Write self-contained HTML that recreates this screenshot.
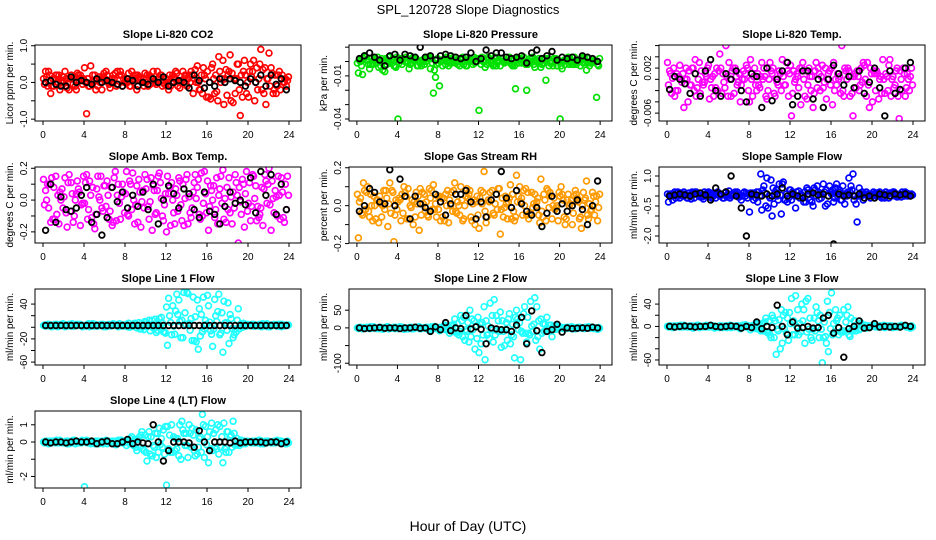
<!DOCTYPE html>
<html><head><meta charset="utf-8">
<style>
html,body{margin:0;padding:0;background:#fff;}
svg{display:block;font-family:"Liberation Sans",sans-serif;}
</style></head>
<body>
<svg id="chart" width="936" height="540" viewBox="0 0 936 540" xmlns="http://www.w3.org/2000/svg">
<text x="468" y="14" text-anchor="middle" font-size="13">SPL_120728  Slope Diagnostics</text>
<text x="468" y="531" text-anchor="middle" font-size="14">Hour of Day (UTC)</text>
</svg>
<script>
// ---- shared data ----
const hours=[0.25,0.75,1.25,1.75,2.25,2.75,3.25,3.75,4.25,4.75,5.25,5.75,6.25,6.75,7.25,7.75,8.25,8.75,9.25,9.75,10.25,10.75,11.25,11.75,12.25,12.75,13.25,13.75,14.25,14.75,15.25,15.75,16.25,16.75,17.25,17.75,18.25,18.75,19.25,19.75,20.25,20.75,21.25,21.75,22.25,22.75,23.25,23.75];
const dayOffsetHours=[-0.2,-0.1,0,0.1,0.2];
const xTicks=[0,4,8,12,16,20,24];

// ---- CO2 ----
const co2Day1=[0.1,0.3,-0.1,0.2,0.0,-0.2,0.15,0.05,0.4,-0.1,0.2,0.0,0.1,-0.15,0.25,0.3,0.05,-0.1,0.2,0.1,0.0,0.15,-0.05,0.2,0.1,0.0,0.25,0.05,-0.1,0.2,0.45,-0.3,0.3,0.5,-0.5,0.6,0.2,-0.55,0.5,0.3,-0.4,0.6,0.1,-0.3,0.8,-0.2,0.3,0.0];
const co2Day2=[-0.05,0.2,0.1,-0.2,0.3,0.1,-0.1,0.2,0.0,0.45,-0.2,0.1,0.3,0.0,-0.1,0.2,0.1,0.3,-0.2,0.0,0.2,0.1,0.3,-0.1,0.0,0.2,-0.1,0.3,0.1,-0.3,0.0,0.4,-0.4,0.1,0.7,-0.6,0.3,0.1,-0.2,0.6,0.3,-0.5,0.5,0.4,-0.1,0.2,-0.2,0.1];
const co2Day3=[0.3,-0.3,0.2,0.0,0.1,0.2,-0.2,0.1,-0.85,0.0,0.1,-0.2,0.2,0.1,0.3,-0.1,0.0,0.1,0.2,0.0,-0.1,0.3,0.1,0.0,-0.2,0.15,0.0,0.1,0.2,0.1,-0.2,0.2,0.0,-0.3,0.3,0.1,0.75,-0.3,-0.9,0.2,0.5,0.0,0.9,-0.6,0.4,-0.3,0.1,-0.1];
const co2Day4=[0.15,-0.1,0.2,0.05,-0.15,0.1,0.25,-0.05,0.1,0.2,-0.1,0.15,0.0,0.2,-0.05,0.1,0.25,0.0,0.15,-0.1,0.2,0.05,0.15,-0.05,0.2,0.1,-0.15,0.2,0.0,0.35,-0.2,0.1,-0.45,0.2,0.0,0.35,-0.5,0.1,0.2,-0.3,0.15,0.4,-0.2,0.1,0.25,-0.1,0.2,0.05];
const co2Day5=[-0.1,0.1,0.0,0.15,0.1,-0.05,0.2,0.1,-0.1,0.05,0.15,0.25,-0.05,0.1,0.2,0.0,-0.1,0.2,0.05,0.25,-0.05,0.0,0.2,0.1,-0.1,0.3,0.05,-0.05,0.3,0.0,0.2,-0.4,0.4,-0.25,0.1,-0.35,0.25,0.5,-0.4,0.0,0.3,-0.2,0.35,0.1,-0.3,0.2,0.0,0.15];
const co2Mean=[0.0,0.05,-0.05,-0.1,-0.1,0.15,0.0,0.05,0.0,-0.05,0.1,0.0,0.05,0.0,-0.05,-0.1,0.1,0.05,-0.1,0.0,-0.05,0.1,0.0,0.15,-0.1,0.0,0.05,0.0,-0.15,0.2,0.05,-0.15,0.0,-0.1,0.1,0.0,0.1,0.05,0.0,-0.1,0.1,0.0,0.2,-0.1,0.2,-0.05,0.1,-0.2];
const co2Ticks=[-1,-0.5,0,0.5,1];
const co2Labels=["-1.0","","0.0","","1.0"];

// ---- Pressure ----
const presDay1=[-0.001,-0.009,0.001,-0.002,0.003,-0.006,0.000,0.002,-0.040,0.001,-0.001,0.003,-0.003,0.000,0.002,-0.022,-0.001,0.001,-0.003,0.003,0.000,-0.002,0.001,0.003,-0.034,0.000,0.002,-0.002,0.001,-0.001,0.003,-0.003,0.001,-0.001,0.002,-0.004,0.000,0.002,-0.001,0.001,-0.040,-0.002,0.002,0.000,-0.003,0.001,-0.001,0.000];
const presDay2=[-0.008,0.002,-0.002,0.001,-0.004,0.000,0.003,-0.003,-0.001,0.002,-0.005,0.001,0.000,-0.002,0.003,-0.006,-0.017,0.002,-0.001,0.001,-0.003,0.000,0.002,-0.001,0.001,-0.004,0.000,0.003,-0.003,0.001,-0.001,-0.019,0.002,-0.002,0.000,0.001,-0.004,-0.013,-0.001,0.002,-0.003,0.001,0.000,-0.002,0.002,-0.006,-0.001,-0.025];
const presDay3=[0.001,0.004,-0.005,0.002,0.000,-0.007,-0.001,-0.003,0.002,0.000,-0.002,0.001,-0.001,0.002,-0.005,-0.011,0.000,-0.002,0.002,-0.001,0.001,-0.003,0.000,0.002,-0.002,0.001,-0.001,-0.003,0.002,0.000,-0.002,0.001,-0.001,-0.020,0.002,0.000,-0.002,0.001,-0.001,-0.003,-0.005,0.002,-0.002,0.001,0.003,-0.001,0.000,-0.002];
const presDay4=[0.000,0.003,-0.002,0.001,-0.003,0.002,0.000,-0.004,0.001,0.003,-0.001,0.002,-0.003,0.000,0.002,-0.002,0.001,0.003,-0.001,0.000,0.002,-0.003,0.001,0.000,0.003,-0.002,0.001,-0.001,0.002,0.000,-0.003,0.002,0.001,-0.002,0.003,0.000,-0.001,0.002,-0.003,0.001,0.000,0.003,-0.002,0.001,-0.001,0.002,0.000,-0.003];
const presDay5=[-0.003,0.001,0.002,-0.001,0.002,-0.002,0.001,0.003,-0.002,0.000,0.002,-0.003,0.001,0.003,-0.001,0.002,-0.003,0.000,0.001,-0.002,0.003,0.001,-0.002,0.002,0.000,0.003,-0.003,0.001,0.000,0.002,0.001,-0.001,0.003,0.000,-0.002,0.002,0.001,-0.003,0.002,0.000,0.001,-0.002,0.003,0.000,0.002,-0.003,0.001,0.002];
const presMean=[0.002,0.004,0.006,0.003,0.001,-0.003,0.004,0.005,0.001,0.005,0.004,0.003,0.010,0.003,0.004,0.001,0.004,0.005,0.004,0.003,0.002,0.003,0.006,0.000,0.002,0.008,0.004,0.006,0.006,0.003,0.002,0.003,0.004,-0.001,0.006,0.008,0.002,0.004,0.007,0.001,0.003,0.002,0.003,0.001,0.004,0.003,0.002,0.000];
const presTicks=[0.01,0,-0.01,-0.02,-0.03,-0.04];
const presLabels=["","","-0.01","","","-0.04"];

// ---- Li-820 Temp ----
const tempDay1=[0.0030,0.0002,-0.0020,0.0010,-0.0040,0.0020,0.0000,-0.0010,0.0025,-0.0030,0.0015,-0.0005,0.0030,-0.0025,0.0010,0.0000,-0.0040,0.0020,-0.0015,0.0005,0.0030,-0.0030,0.0010,-0.0010,0.0025,0.0000,-0.0045,0.0015,-0.0020,0.0030,0.0005,-0.0035,0.0020,-0.0010,0.0060,0.0000,-0.0025,0.0015,-0.0005,0.0030,-0.0040,0.0010,0.0035,-0.0020,0.0005,-0.0030,0.0020,0.0000];
const tempDay2=[-0.0010,0.0020,0.0005,-0.0050,0.0015,-0.0020,0.0030,-0.0005,-0.0035,0.0010,0.0045,-0.0015,0.0000,0.0020,-0.0040,0.0010,0.0035,-0.0010,0.0005,-0.0030,0.0015,0.0000,-0.0020,0.0030,-0.0065,0.0010,0.0020,-0.0035,0.0005,-0.0015,0.0025,0.0000,-0.0045,0.0010,-0.0020,0.0020,-0.0065,0.0005,0.0030,-0.0010,0.0015,-0.0035,0.0000,0.0025,-0.0015,-0.0070,0.0010,-0.0020];
const tempDay3=[0.0015,-0.0030,0.0025,0.0000,-0.0010,0.0035,-0.0025,0.0010,0.0000,-0.0015,0.0020,0.0060,-0.0030,0.0005,-0.0010,0.0025,0.0000,-0.0020,0.0030,-0.0035,0.0010,-0.0005,0.0035,0.0015,-0.0025,0.0005,0.0030,-0.0010,-0.0050,0.0020,-0.0015,0.0010,0.0030,0.0000,-0.0030,0.0015,0.0005,-0.0020,0.0025,-0.0050,0.0010,0.0000,-0.0025,0.0035,-0.0010,0.0015,-0.0030,0.0005];
const tempDay4=[0.0010,-0.0020,0.0000,0.0020,-0.0010,-0.0030,0.0015,0.0005,-0.0015,0.0020,-0.0025,0.0005,0.0015,-0.0010,0.0000,0.0020,-0.0030,0.0010,0.0000,-0.0020,0.0020,-0.0010,0.0005,-0.0030,0.0015,-0.0015,0.0000,0.0020,-0.0025,0.0010,-0.0005,0.0015,-0.0020,0.0005,0.0020,-0.0030,0.0010,-0.0010,0.0000,0.0020,-0.0020,0.0005,0.0010,-0.0030,0.0015,0.0000,-0.0015,0.0020];
const tempDay5=[-0.0025,0.0010,-0.0005,0.0000,0.0020,-0.0015,-0.0005,0.0020,0.0005,-0.0020,0.0010,-0.0030,0.0020,-0.0005,0.0015,-0.0020,0.0005,-0.0010,0.0020,0.0000,-0.0025,0.0015,-0.0010,0.0010,-0.0005,0.0020,-0.0030,0.0005,0.0015,-0.0020,0.0020,-0.0010,0.0000,-0.0025,0.0015,0.0005,-0.0015,0.0020,-0.0030,0.0010,0.0015,-0.0025,0.0005,0.0000,0.0020,-0.0020,0.0010,-0.0010];
const tempMean=[-0.0018,0.0005,0.0000,-0.0008,-0.0025,0.0010,-0.0030,0.0015,0.0035,-0.0020,-0.0030,0.0010,0.0000,0.0015,-0.0020,-0.0040,0.0010,0.0005,-0.0050,0.0020,-0.0038,0.0000,0.0015,0.0030,-0.0045,-0.0030,0.0015,0.0015,-0.0035,0.0000,-0.0050,0.0000,0.0025,0.0010,-0.0010,0.0005,-0.0015,0.0015,-0.0025,-0.0005,0.0020,-0.0015,-0.0065,0.0015,-0.0025,-0.0018,0.0020,0.0030];
const tempTicks=[0.006,0.004,0.002,0,-0.002,-0.004,-0.006];
const tempLabels=["","","0.002","","","","-0.006"];

// ---- Amb Box Temp ----
const ambDay1=[0.13,-0.05,0.08,-0.15,0.02,0.16,-0.10,0.05,-0.02,0.12,-0.18,0.00,0.09,-0.07,0.18,-0.12,0.04,0.10,-0.03,-0.17,0.07,0.14,-0.08,0.01,-0.20,0.11,0.03,-0.13,0.16,-0.05,0.08,-0.10,0.12,0.00,-0.15,0.19,-0.06,0.05,-0.27,0.10,-0.02,0.15,-0.11,0.07,0.20,-0.08,0.03,-0.14];
const ambDay2=[-0.03,0.10,-0.12,0.05,0.14,-0.07,0.00,-0.16,0.11,0.03,-0.09,0.15,-0.04,0.08,-0.13,0.02,0.18,-0.06,0.09,-0.01,0.13,-0.19,0.06,-0.10,0.15,0.00,-0.07,0.10,-0.15,0.05,0.13,-0.02,-0.19,0.09,0.03,-0.12,0.14,-0.05,0.08,-0.17,0.11,0.01,-0.09,0.16,-0.03,0.06,-0.12,0.10];
const ambDay3=[0.06,-0.14,0.15,0.00,-0.08,0.11,0.04,-0.03,0.16,-0.11,0.07,-0.05,0.12,-0.16,0.03,0.10,-0.09,0.17,-0.14,0.06,-0.04,0.09,0.15,-0.13,0.04,-0.08,0.14,-0.16,0.02,0.11,-0.09,0.18,-0.04,-0.11,0.07,0.01,-0.08,0.16,-0.01,0.04,-0.13,0.09,-0.05,0.12,-0.19,0.02,0.14,-0.06];
const ambDay4=[0.00,0.14,-0.09,0.07,-0.17,0.04,0.12,-0.02,-0.12,0.08,0.15,-0.07,0.03,-0.14,0.10,0.05,-0.10,0.00,0.13,-0.05,-0.12,0.06,0.17,-0.03,0.08,-0.15,0.12,0.01,-0.08,0.16,-0.12,0.04,0.09,-0.06,0.15,-0.14,0.02,0.11,-0.09,0.18,-0.04,-0.13,0.08,-0.02,0.12,-0.10,0.05,0.15];
const ambDay5=[0.10,-0.12,0.03,-0.05,0.11,-0.14,0.07,0.15,-0.06,-0.15,0.02,0.09,-0.12,0.14,-0.02,-0.08,0.12,-0.15,0.05,0.16,-0.01,-0.09,0.11,0.04,-0.16,0.07,-0.03,0.13,-0.11,0.01,0.17,-0.08,0.06,0.14,-0.02,0.08,-0.15,0.03,0.13,-0.07,0.16,-0.04,-0.16,0.10,0.01,0.15,-0.11,0.03];
const ambMean=[-0.19,0.10,-0.14,0.02,-0.06,-0.07,-0.05,0.03,0.08,-0.14,-0.09,-0.22,-0.11,0.08,-0.01,0.05,-0.05,0.03,-0.04,0.05,-0.06,0.10,-0.15,0.00,0.09,0.04,-0.05,0.07,0.04,-0.06,-0.11,0.05,-0.07,-0.09,-0.15,-0.04,0.05,-0.02,0.00,-0.03,0.14,-0.08,0.18,0.03,0.16,-0.09,0.10,-0.06];
const ambTicks=[0.2,0.1,0,-0.1,-0.2];
const ambLabels=["0.2","","0.0","","-0.2"];

// ---- Gas Stream RH ----
const rhDay1=[0.06,-0.05,0.10,-0.08,0.03,0.00,-0.11,0.07,0.02,-0.04,0.09,-0.10,0.05,0.01,-0.06,0.11,-0.02,0.04,-0.09,0.08,0.00,-0.07,0.06,0.03,-0.12,0.18,0.02,-0.05,0.09,-0.01,0.04,-0.08,0.10,0.00,-0.04,0.06,-0.09,0.03,0.07,-0.02,0.05,-0.10,0.01,0.08,-0.06,0.04,-0.03,0.02];
const rhDay2=[-0.17,0.12,-0.03,0.05,-0.09,0.08,0.01,-0.19,0.04,0.10,-0.07,0.02,-0.13,0.06,0.09,-0.02,0.05,-0.08,0.03,0.12,-0.05,0.00,0.08,-0.10,0.04,-0.03,0.07,0.01,-0.15,0.05,0.11,-0.06,0.02,0.09,-0.04,0.00,0.14,-0.08,0.05,-0.01,0.10,-0.07,0.03,0.06,-0.12,0.13,-0.02,0.05];
const rhDay3=[0.02,0.08,-0.06,0.00,0.05,-0.02,0.12,-0.05,0.03,0.07,0.00,-0.06,0.09,-0.03,0.04,0.01,-0.08,0.06,0.00,-0.03,0.10,0.05,-0.06,0.02,0.08,-0.09,0.03,0.06,-0.02,0.01,-0.07,0.16,0.04,-0.05,0.07,0.02,-0.03,0.09,-0.07,0.00,0.06,0.03,-0.10,0.04,0.00,-0.05,0.07,-0.08];
const rhDay4=[0.04,-0.02,0.06,-0.07,0.01,0.08,-0.04,0.03,-0.08,0.05,-0.01,0.07,-0.05,0.02,0.08,-0.06,0.04,0.00,0.07,-0.04,0.03,0.09,-0.08,0.05,0.01,-0.06,0.08,-0.02,0.04,-0.07,0.06,0.02,-0.05,0.07,-0.01,0.04,-0.06,0.08,0.00,-0.08,0.03,0.06,-0.04,0.02,0.07,-0.07,0.05,-0.01];
const rhDay5=[-0.04,0.07,0.00,0.03,-0.06,0.04,0.08,-0.02,0.06,-0.07,0.03,0.01,0.07,-0.05,-0.02,0.05,-0.06,0.08,-0.03,0.02,-0.08,0.04,0.01,-0.05,0.07,0.03,-0.04,0.09,-0.06,0.02,-0.03,0.05,0.08,-0.07,0.01,-0.05,0.06,-0.01,0.04,0.07,-0.06,0.00,0.05,-0.07,0.03,0.01,-0.05,0.06];
const rhMean=[-0.03,0.00,0.09,0.07,0.02,0.01,0.19,0.00,0.14,0.05,-0.07,0.05,0.01,-0.01,-0.03,0.06,0.02,-0.05,0.01,0.06,0.06,0.08,0.02,-0.07,0.02,-0.06,0.03,0.06,0.18,0.04,-0.01,0.08,0.01,-0.03,-0.05,-0.01,-0.11,-0.04,0.05,-0.03,0.01,-0.03,0.00,0.03,-0.02,-0.10,0.00,0.13];
const rhTicks=[0.2,0.1,0,-0.1,-0.2];
const rhLabels=["0.2","","0.0","","-0.2"];

// ---- Sample Flow ----
const sampDay1=[0.1,-0.2,0.2,0.0,-0.1,0.15,0.05,-0.15,0.2,0.0,0.1,-0.1,0.25,0.05,-0.05,0.2,-0.8,0.1,0.0,0.15,-0.1,0.2,0.05,-0.2,0.3,-0.6,0.1,-0.3,0.2,0.0,-0.1,0.3,0.1,0.6,-0.2,0.0,0.3,-1.3,0.2,0.1,0.0,0.15,-0.05,0.1,0.2,0.0,0.1,0.05];
const sampDay2=[-0.3,0.1,0.0,0.2,0.15,-0.1,0.05,0.2,-0.05,0.1,0.0,0.15,-0.1,0.2,0.05,0.0,0.15,-0.1,1.1,-0.5,0.8,0.3,-0.9,0.1,-0.2,0.2,0.0,0.4,-0.3,0.5,0.1,-0.4,0.3,0.0,0.5,0.2,1.1,0.0,-0.2,0.1,0.2,0.0,0.1,-0.1,0.2,0.05,0.0,0.1];
const sampDay3=[0.05,0.2,-0.1,0.1,0.0,0.2,-0.05,0.1,0.15,-0.1,0.05,0.2,0.0,0.1,-0.2,0.15,0.0,0.2,-0.7,0.9,-1.0,0.0,0.6,-0.3,0.2,0.0,-0.1,0.3,-0.5,0.2,0.6,0.0,-0.3,0.2,0.1,0.9,-0.2,0.4,0.1,0.0,0.1,0.2,-0.1,0.15,0.0,0.1,0.2,0.0];
const sampDay4=[0.1,-0.1,0.15,0.05,-0.15,0.2,0.0,0.1,-0.1,0.15,0.05,-0.05,0.1,0.2,0.0,-0.1,0.15,-0.3,0.3,-0.6,0.4,-0.2,0.7,-0.1,0.1,0.25,-0.3,0.1,0.4,-0.15,0.2,0.5,-0.1,0.3,-0.4,0.2,0.0,0.15,0.1,-0.1,0.15,0.05,0.2,0.0,0.1,-0.05,0.15,0.1];
const sampDay5=[0.0,0.15,0.05,-0.1,0.2,0.1,-0.05,0.15,0.0,0.2,-0.1,0.1,0.05,-0.05,0.15,0.1,-0.2,0.2,0.5,0.0,-0.4,0.6,-0.2,0.3,0.0,-0.1,0.2,-0.2,0.3,0.1,-0.5,0.2,0.4,-0.2,0.1,0.5,-0.4,0.0,0.2,0.1,0.0,-0.1,0.1,0.15,-0.05,0.2,0.0,0.05];
const sampMean=[0.0,0.05,0.1,0.05,0.0,0.1,0.15,0.05,-0.2,0.4,0.1,0.2,1.0,0.0,-0.6,-2.0,0.1,0.05,0.0,0.1,0.0,0.1,0.4,0.0,0.1,0.0,-0.1,0.1,0.15,0.05,0.1,0.0,-2.4,0.1,0.0,0.05,0.0,0.1,-0.1,0.0,-0.1,0.1,0.05,0.0,0.1,0.05,0.1,0.0];
const sampTicks=[1,0.5,0,-0.5,-1,-1.5,-2];
const sampLabels=["1.0","","","-0.5","","","-2.0"];

// ---- Line 1 Flow ----
const line1Day1=[3,5,2,4,3,5,2,4,3,1,5,3,4,2,5,3,4,1,5,-3,9,2,-9,17,35,-13,57,12,60,-23,47,-8,55,-33,27,-43,42,-18,32,7,3,5,2,4,3,5,2,3];
const line1Day2=[4,2,5,3,1,4,3,5,2,4,3,5,1,3,4,2,5,3,-1,7,1,12,-5,7,-31,37,22,-18,58,52,-38,52,37,-3,57,45,-28,-13,-3,3,4,2,5,3,1,4,5,3];
const line1Day3=[2,4,3,5,4,2,5,3,4,5,2,4,3,5,2,4,1,5,3,1,6,-1,7,-8,50,2,47,60,7,-23,32,-3,9,48,-13,7,22,-3,5,2,4,3,5,2,4,3,1,4];
const line1Day4=[3,1,5,4,2,6,3,1,4,6,2,5,3,6,1,4,7,2,8,-4,12,-2,15,-8,20,-12,10,25,-5,18,-15,12,-6,20,-10,8,15,-8,6,2,5,3,1,6,4,2,5,3];
const line1Day5=[5,3,1,6,4,2,5,3,6,2,4,1,5,3,6,2,0,7,-3,10,-6,14,2,-10,8,28,-18,5,15,-25,22,5,-12,10,25,-5,-2,12,0,5,2,4,6,1,3,5,2,4];
const line1Mean=[3,3,3,3,3,3,3,3,3,3,3,3,3,3,3,3,3,3,3,3,3,3,3,3,3,3,3,3,3,3,3,3,3,3,3,3,3,3,3,3,3,3,3,3,3,3,3,3];
const line1Ticks=[40,20,0,-20,-40,-60];
const line1Labels=["40","","","-20","","-60"];

// ---- Line 2 Flow ----
const line2Day1=[0,-3,2,-1,0,-4,3,0,-2,1,-3,0,2,-1,-5,3,0,4,-6,10,-20,30,-40,20,-70,60,-30,80,-10,-50,40,-85,15,60,-20,85,-60,10,-5,3,0,-2,1,-3,0,2,-1,0];
const line2Day2=[-2,1,-1,3,-2,0,-3,2,0,-4,1,-2,3,0,-6,4,-8,8,-15,25,-10,-35,50,-60,10,-90,70,-20,45,-5,-45,30,-90,-15,75,-35,25,-10,8,-4,2,-1,3,-2,0,-1,2,-3];
const line2Day3=[1,0,-2,0,2,-1,0,-2,3,-1,0,2,-3,1,0,-2,2,-5,6,-12,35,-5,-25,5,-45,20,-5,35,-55,15,-20,50,-10,-40,5,60,-15,30,-25,5,0,2,-3,1,-1,0,2,-4];
const line2Day4=[2,-1,3,0,-2,1,-1,2,0,-3,2,1,-2,0,3,-1,2,-6,8,-15,20,-10,25,-30,15,-20,35,-8,20,-35,10,25,-15,30,-10,-25,12,-6,3,0,-2,1,2,-1,0,3,-2,1];
const line2Day5=[-1,2,0,-2,1,3,-1,0,2,-1,-3,1,0,2,-2,1,-4,5,-10,12,-25,15,-5,30,-20,5,-40,20,-10,25,-25,-5,40,-15,10,20,-10,8,-4,2,1,-1,0,2,-2,1,0,-1];
const line2Mean=[0,-2,-1,0,1,-1,0,0,-2,0,0,2,-1,0,-10,3,-5,15,-8,0,-2,35,-3,3,-4,-45,0,-3,-5,-5,-10,8,30,-45,48,-8,-70,-10,-5,10,-12,0,-2,-1,0,-1,2,0];
const line2Ticks=[50,0,-50,-100];
const line2Labels=["50","0","","-100"];

// ---- Line 3 Flow ----
const line3Day1=[0,-2,1,-1,0,-3,2,0,-1,1,-2,0,1,-1,-3,2,0,3,-5,8,-15,10,-40,25,5,55,-10,45,-20,35,-5,-30,60,10,-8,20,-5,3,0,-1,2,-1,0,1,-2,0,1,-1];
const line3Day2=[-1,1,0,2,-1,0,-2,1,0,-3,1,-1,2,0,-4,3,-6,5,-8,15,-20,-50,30,-12,50,0,40,-10,-25,25,-65,45,-15,15,-10,35,-8,5,-2,1,0,-1,2,-1,0,-1,1,-2];
const line3Day3=[1,0,-1,0,1,-1,0,-1,2,-1,0,1,-2,1,0,-1,1,-4,4,-10,20,-5,-30,15,-15,30,10,50,-5,10,-20,-45,5,-15,30,-15,10,-6,2,-2,0,1,-2,1,-1,0,1,-3];
const line3Day4=[1,-1,2,0,-1,1,0,2,-1,0,1,-2,1,0,2,-1,1,-4,6,-12,15,-8,20,-25,10,-15,30,-5,15,-20,8,25,-10,20,-8,-18,10,-4,2,0,-1,1,1,-1,0,2,-1,1];
const line3Day5=[-1,1,0,-1,1,2,-1,0,1,-1,-2,1,0,1,-1,1,-3,4,-8,10,-20,12,-4,25,-15,5,-30,15,-8,20,-18,-4,30,-10,8,15,-8,6,-3,1,1,-1,0,1,-1,1,0,-1];
const line3Mean=[0,-1,0,1,0,-1,0,0,2,0,-1,0,1,0,-3,0,-2,8,-4,0,-2,38,0,-15,8,-3,-2,0,-3,-2,15,20,-12,-2,-55,-4,0,10,-3,-2,5,-1,0,-1,0,-1,2,0];
const line3Ticks=[40,20,0,-20,-40,-60];
const line3Labels=["40","","0","","","-60"];

// ---- Line 4 (LT) Flow ----
const line4Day1=[0,-0.1,0.05,-0.05,0,-0.1,0.1,0,-2.6,0.05,-0.1,0,0.05,-0.05,-0.15,0.1,0,0.2,-0.3,0.4,-0.6,0.3,-0.9,0.2,-2.5,1.0,-0.4,1.2,-0.2,0.8,-0.7,1.6,0.3,-0.5,1.0,-1.2,0.6,1.2,-0.1,0.05,0,-0.05,0.1,-0.1,0,0.05,-0.05,0];
const line4Day2=[-0.05,0.05,0,0.1,-0.05,0,-0.1,0.05,0,-0.1,0.05,-0.05,0.1,0,-0.15,0.1,-0.2,0.3,-0.5,0.6,-1.1,-0.8,0.5,-0.3,0.9,-0.6,0.2,0.7,-0.9,0.4,-0.3,1.0,-1.2,0.5,-0.7,1.1,-0.6,0.5,-0.2,0.05,0,-0.05,0.1,-0.05,0,-0.05,0.05,-0.1];
const line4Day3=[0.05,0,-0.05,0,0.05,-0.05,0,-0.05,0.1,-0.05,0,0.05,-0.1,0.05,0,-0.05,0.05,-0.15,0.15,-0.4,0.3,-0.2,-0.6,0.7,-0.4,0.3,-0.8,0.5,1.0,-0.5,0.2,-0.9,0.6,-0.3,0.9,-0.4,0.3,-0.2,0.1,-0.1,0,0.05,-0.1,0.05,-0.05,0,0.05,-0.1];
const line4Day4=[0.05,-0.05,0.1,0,-0.1,0.05,0,0.1,-0.05,0,0.05,-0.1,0.05,0,0.1,-0.05,0.05,-0.2,0.25,-0.5,0.6,-0.3,0.8,-0.7,0.4,-0.5,1.0,-0.2,0.5,-0.8,0.3,0.9,-0.4,0.7,-0.3,-0.6,0.4,-0.15,0.1,0,-0.05,0.05,0.05,-0.05,0,0.1,-0.05,0.05];
const line4Day5=[-0.05,0.05,0,-0.05,0.05,0.1,-0.05,0,0.05,-0.05,-0.1,0.05,0,0.05,-0.05,0.05,-0.1,0.15,-0.3,0.4,-0.7,0.5,-0.15,0.9,-0.6,0.2,-1.0,0.5,-0.3,0.7,-0.6,-0.15,1.1,-0.4,0.3,0.6,-0.3,0.2,-0.1,0.05,0.05,-0.05,0,0.05,-0.05,0.05,0,-0.05];
const line4Mean=[0,-0.05,0,0,-0.05,0,0.05,0,0,0.05,-0.1,0,0.05,-0.1,-0.1,0,0.15,-0.1,0,-0.05,-0.1,1.0,0,-1.1,-0.5,0,0,0,-0.05,-0.3,0.65,0,-0.5,0,0,0,-0.05,0.05,-0.05,0,0,0,0,-0.05,0,0,-0.1,0];
const line4Ticks=[1,0,-1,-2];
const line4Labels=["1","0","","-2"];

// ---- layout ----
const NS="http://www.w3.org/2000/svg";
const svg=document.getElementById('chart');
const cols=[[35,301],[349,612],[659,925]];
const rows=[[45,121],[167,243],[289,365],[411,488]];
const xMin=-0.78,xMax=25.17;

const panels=[
 {key:'co2',title:'Slope Li-820 CO2',ylab:'Licor ppm per min.',c:0,r:0,ymin:-1.05,ymax:1.02,color:'#ff0000',days:[co2Day1,co2Day2,co2Day3,co2Day4,co2Day5],mean:co2Mean,ticks:co2Ticks,labels:co2Labels},
 {key:'pressure',title:'Slope Li-820 Pressure',ylab:'kPa per min.',c:1,r:0,ymin:-0.0414,ymax:0.0115,color:'#00e000',days:[presDay1,presDay2,presDay3,presDay4,presDay5],mean:presMean,ticks:presTicks,labels:presLabels},
 {key:'li820-temp',title:'Slope Li-820 Temp.',ylab:'degrees C per min.',c:2,r:0,ymin:-0.0074,ymax:0.0061,color:'#ff00ff',days:[tempDay1,tempDay2,tempDay3,tempDay4,tempDay5],mean:tempMean,ticks:tempTicks,labels:tempLabels},
 {key:'amb-temp',title:'Slope Amb. Box Temp.',ylab:'degrees C per min.',c:0,r:1,ymin:-0.27,ymax:0.208,color:'#ff00ff',days:[ambDay1,ambDay2,ambDay3,ambDay4,ambDay5],mean:ambMean,ticks:ambTicks,labels:ambLabels},
 {key:'rh',title:'Slope Gas Stream RH',ylab:'percent per min.',c:1,r:1,ymin:-0.197,ymax:0.204,color:'#ff9a00',days:[rhDay1,rhDay2,rhDay3,rhDay4,rhDay5],mean:rhMean,ticks:rhTicks,labels:rhLabels},
 {key:'sample-flow',title:'Slope Sample Flow',ylab:'ml/min per min.',c:2,r:1,ymin:-2.35,ymax:1.45,color:'#0000ff',days:[sampDay1,sampDay2,sampDay3,sampDay4,sampDay5],mean:sampMean,ticks:sampTicks,labels:sampLabels},
 {key:'line1-flow',title:'Slope Line 1 Flow',ylab:'ml/min per min.',c:0,r:2,ymin:-65,ymax:66,color:'#22ffff',days:[line1Day1,line1Day2,line1Day3,line1Day4,line1Day5],mean:line1Mean,ticks:line1Ticks,labels:line1Labels},
 {key:'line2-flow',title:'Slope Line 2 Flow',ylab:'ml/min per min.',c:1,r:2,ymin:-105,ymax:110,color:'#22ffff',days:[line2Day1,line2Day2,line2Day3,line2Day4,line2Day5],mean:line2Mean,ticks:line2Ticks,labels:line2Labels},
 {key:'line3-flow',title:'Slope Line 3 Flow',ylab:'ml/min per min.',c:2,r:2,ymin:-69,ymax:67,color:'#22ffff',days:[line3Day1,line3Day2,line3Day3,line3Day4,line3Day5],mean:line3Mean,ticks:line3Ticks,labels:line3Labels},
 {key:'line4-flow',title:'Slope Line 4 (LT) Flow',ylab:'ml/min per min.',c:0,r:3,ymin:-2.67,ymax:1.8,color:'#22ffff',days:[line4Day1,line4Day2,line4Day3,line4Day4,line4Day5],mean:line4Mean,ticks:line4Ticks,labels:line4Labels}
];

function mk(tag,attrs,parent){const e=document.createElementNS(NS,tag);for(const k in attrs)e.setAttribute(k,attrs[k]);parent.appendChild(e);return e;}

panels.forEach(p=>{
  const [L,R]=cols[p.c],[T,B]=rows[p.r];
  const xs=v=>L+(v-xMin)/(xMax-xMin)*(R-L);
  const ys=v=>B-(v-p.ymin)/(p.ymax-p.ymin)*(B-T);
  const g=mk('g',{},svg);
  
  
  const clip=mk('clipPath',{id:'clip-'+p.key},g);
  mk('rect',{x:L,y:T,width:R-L,height:B-T},clip);
  const pts=mk('g',{'clip-path':'url(#clip-'+p.key+')'},g);
  
  
  p.days.forEach((arr,d)=>{
    arr.forEach((v,i)=>{
      const c=mk('circle',{cx:xs(hours[i]+dayOffsetHours[d]).toFixed(1),cy:ys(v).toFixed(1),r:2.9,fill:'none',stroke:p.color,'stroke-width':1.7},pts);
      
      
    });
  });
  p.mean.forEach((v,i)=>{
    const c=mk('circle',{cx:xs(hours[i]).toFixed(1),cy:ys(v).toFixed(1),r:2.8,fill:'none',stroke:'#000','stroke-width':1.8},pts);
    
    
  });
  const box=mk('rect',{x:L,y:T,width:R-L,height:B-T,fill:'none',stroke:'#000','stroke-width':1},g);
  
  
  const t=mk('text',{x:(L+R)/2,y:T-7,'text-anchor':'middle','font-size':11,'font-weight':'bold'},g);
  t.textContent=p.title;
  
  
  xTicks.forEach(v=>{
    const x=xs(v);
    mk('line',{x1:x,x2:x,y1:B,y2:B+4,stroke:'#000','stroke-width':1},g);
    const tl=mk('text',{x:x,y:B+17,'text-anchor':'middle','font-size':10},g);
    tl.textContent=v;
    
    
  });
  p.ticks.forEach((v,i)=>{
    const y=ys(v);
    mk('line',{x1:L-4,x2:L,y1:y,y2:y,stroke:'#000','stroke-width':1},g);
    if(p.labels[i]){
      const tl=mk('text',{x:0,y:0,'text-anchor':'middle','font-size':10,transform:'translate('+(L-8)+','+y.toFixed(1)+') rotate(-90)'},g);
      tl.textContent=p.labels[i];
      
      
    }
  });
  const yl=mk('text',{x:0,y:0,'text-anchor':'middle','font-size':10,transform:'translate('+(L-22)+','+((T+B)/2)+') rotate(-90)'},g);
  yl.textContent=p.ylab;
  
  
});
</script>
</body></html>
